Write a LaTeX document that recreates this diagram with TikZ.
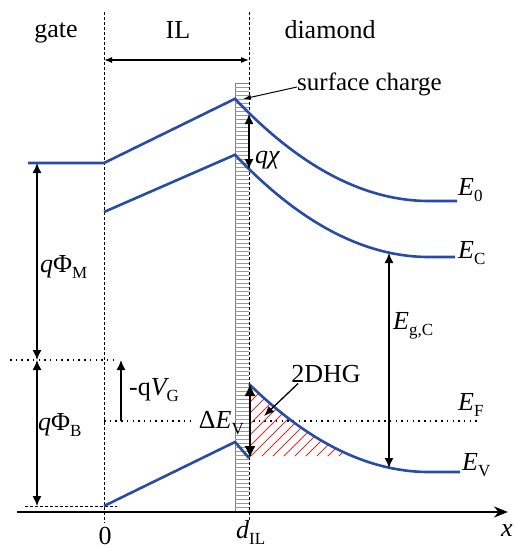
\documentclass[tikz,border=0pt]{standalone}
\usepackage{fontspec}
\setmainfont{Liberation Serif}
\usetikzlibrary{arrows.meta}
\definecolor{bandblue}{RGB}{40,75,165}
\definecolor{hatchred}{RGB}{225,45,45}
\newcommand\subl[1]{\raisebox{-6pt}{\fontsize{17}{17}\selectfont #1}}
\begin{document}
\begin{tikzpicture}[x=1pt,y=-1pt,
  declare function={uu(\t)=min((\t-249)/180,1); gg(\t)=88*(1-(1-uu(\t))*(1-uu(\t)));},
  bandline/.style={draw=bandblue, line width=2.6pt},
  dimarrow/.style={line width=1.4pt, {Latex[length=10pt,width=9pt]}-{Latex[length=10pt,width=9pt]}},
  onearrow/.style={line width=1.4pt, -{Latex[length=10pt,width=9pt]}},
  thinarrow/.style={line width=1pt, -{Latex[length=8pt,width=5pt]}},
  vdash/.style={line width=0.9pt, dash pattern=on 3pt off 2pt},
  dotline/.style={line width=1.5pt, dash pattern=on 1.5pt off 4.2pt},
  txt/.style={inner sep=0pt, font=\fontsize{26}{30}\selectfont},
  stxt/.style={inner sep=0pt, font=\fontsize{25}{30}\selectfont}
]
\useasboundingbox (0,0) rectangle (514,549);

% surface charge column
\draw[gray, line width=0.6pt] (235,83) -- (235,512);
\draw[gray, line width=0.6pt] (235,83) -- (249,83);
\foreach \yy in {87,91,...,511} \draw[gray!80, line width=0.7pt] (235,\yy) -- (249,\yy);

% vertical dashed lines
\draw[vdash] (104,12) -- (104,523);
\draw[vdash] (249,12) -- (249,520);

% horizontal dotted / dashed guide lines
\draw[dotline] (10,360) -- (118,360);
\draw[dotline] (104,421) -- (195,421);
\draw[dotline] (253,421) -- (477,421);
\draw[line width=0.9pt, dash pattern=on 3pt off 2pt] (25,506) -- (117,506);

% red hatch (2DHG)
\begin{scope}
\clip (249,384) -- plot[domain=249:352,samples=40] (\x,{384+gg(\x)}) -- (352,456) -- (249,456) -- cycle;
\foreach \k in {160,171,...,370} \draw[hatchred, line width=0.8pt] (\k,470) -- ++(100,-100);
\end{scope}

% x axis
\draw[line width=2.4pt, -{Stealth[length=14pt,width=11pt]}] (17,512) -- (508,512);

% bands
\draw[bandline] (28,163) -- (104,163) -- plot[domain=235:457,samples=80] (\x,{113+gg(\x)});
\draw[bandline] (104,212) -- plot[domain=235:455,samples=80] (\x,{169+gg(\x)});
\draw[bandline] (104,506) -- (235,442) -- (249,458);
\draw[bandline] plot[domain=249:460,samples=80] (\x,{384+gg(\x)});

% coordinates for arrows
\coordinate (ilL) at (104,60);
\coordinate (ilR) at (249,60);
\coordinate (chiT) at (249,114);
\coordinate (chiB) at (249,169);
\coordinate (dvT) at (250,384);
\coordinate (dvB) at (250,458);
\coordinate (egT) at (389,253);
\coordinate (egB) at (389,468);
\coordinate (phmT) at (37,163);
\coordinate (phmB) at (37,360);
\coordinate (phbB) at (37,506);
\coordinate (vgB) at (121,421);
\coordinate (vgT) at (121,360);
\coordinate (scTip) at (243,99);
\coordinate (dhgTip) at (264,416);

% labels
\node[txt, anchor=base] (gate) at (56,37) {gate};
\node[txt, anchor=base] (il) at (178,38) {IL};
\node[txt, anchor=base] (dia) at (330,38) {diamond};
\node[stxt, anchor=base west] (sc) at (297,90) {surface charge};
\node[txt, anchor=base west] (qchi) at (255,163) {\itshape qχ};
\node[txt, anchor=base west] (e0) at (458,195) {{\itshape E}\subl{0}};
\node[txt, anchor=base west] (ec) at (458,258) {{\itshape E}\subl{C}};
\node[txt, anchor=base west] (egc) at (393,329) {{\itshape E}\subl{g,C}};
\node[txt, anchor=base west] (ef) at (458,410) {{\itshape E}\subl{F}};
\node[txt, anchor=base west] (ev) at (462,470) {{\itshape E}\subl{V}};
\node[txt, anchor=base west] (qpm) at (40,272) {{\itshape q}Φ\subl{M}};
\node[txt, anchor=base west] (qpb) at (38,430) {{\itshape q}Φ\subl{B}};
\node[txt, anchor=base west] (vg) at (129,395) {-q{\itshape V}\subl{G}};
\node[txt, anchor=base east] (dev) at (244,428) {Δ{\itshape E}\subl{V}};
\node[txt, anchor=base] (dhg) at (326,382) {2DHG};
\node[txt, anchor=base] (xl) at (507,536) {\itshape x};
\node[txt, anchor=base] (zero) at (105,544) {0};
\node[txt, anchor=base west] (dil) at (236,538) {{\itshape d}\subl{IL}};

% arrows
\draw[line width=1.2pt, {Latex[length=8pt,width=6pt]}-{Latex[length=8pt,width=6pt]}] (ilL) -- (ilR);
\draw[thinarrow] (sc.west |- 0,87) -- (scTip);
\draw[dimarrow] (chiT) -- (chiB);
\draw[dimarrow, {Latex[length=12pt,width=11pt]}-{Latex[length=12pt,width=11pt]}] (dvT) -- (dvB);
\draw[dimarrow] (egT) -- (egB);
\draw[dimarrow] (phmT) -- (phmB);
\draw[dimarrow] (phmB) -- (phbB);
\draw[onearrow] (vgB) -- (vgT);
\draw[line width=1.3pt, -{Latex[length=10pt,width=8pt]}] (dhg.south west) ++(7,1) -- (dhgTip);
\end{tikzpicture}
\end{document}
